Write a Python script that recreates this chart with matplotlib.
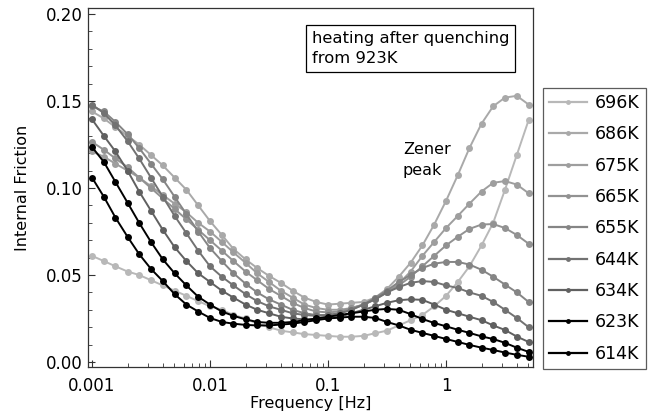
import matplotlib
matplotlib.use("Agg")
import matplotlib.pyplot as plt
from matplotlib.ticker import FixedLocator, MultipleLocator, LogLocator, NullFormatter

plt.rcParams['font.family'] = ['DejaVu Sans']

freq = [0.001, 0.00126, 0.00158, 0.002, 0.00251, 0.00316, 0.00398, 0.00501, 0.00631, 0.00794,
        0.01, 0.0126, 0.0158, 0.02, 0.0251, 0.0316, 0.0398, 0.0501, 0.0631, 0.0794,
        0.1, 0.126, 0.158, 0.2, 0.251, 0.316, 0.398, 0.501, 0.631, 0.794,
        1.0, 1.26, 1.58, 2.0, 2.51, 3.16, 3.98, 5.01]

labels = ["696K", "686K", "675K", "665K", "655K", "644K", "634K", "623K", "614K"]
colors = ["#b8b8b8", "#a9a9a9", "#9e9e9e", "#929292", "#858585", "#727272", "#606060", "#000000", "#000000"]

q696 = [0.061, 0.058, 0.055, 0.052, 0.050, 0.047, 0.044, 0.041, 0.038, 0.035,
        0.032, 0.030, 0.027, 0.025, 0.022, 0.020, 0.018, 0.017, 0.016, 0.0155,
        0.015, 0.0145, 0.0145, 0.015, 0.0165, 0.018, 0.021, 0.024, 0.027, 0.032,
        0.038, 0.046, 0.055, 0.067, 0.080, 0.099, 0.119, 0.139]
q686 = [0.144, 0.140, 0.135, 0.130, 0.125, 0.119, 0.113, 0.106, 0.099, 0.090,
        0.081, 0.073, 0.065, 0.059, 0.054, 0.0495, 0.0455, 0.041, 0.037, 0.0345,
        0.033, 0.0335, 0.034, 0.0345, 0.037, 0.042, 0.049, 0.057, 0.067, 0.079,
        0.0926, 0.1075, 0.123, 0.137, 0.147, 0.152, 0.153, 0.148]
q675 = [0.121, 0.118, 0.114, 0.110, 0.106, 0.101, 0.096, 0.091, 0.086, 0.080,
        0.075, 0.069, 0.063, 0.057, 0.051, 0.046, 0.041, 0.037, 0.033, 0.031,
        0.030, 0.030, 0.031, 0.033, 0.036, 0.040, 0.045, 0.052, 0.061, 0.069,
        0.077, 0.084, 0.091, 0.098, 0.103, 0.104, 0.102, 0.097]
q665 = [0.1265, 0.122, 0.117, 0.112, 0.106, 0.100, 0.094, 0.088, 0.082, 0.076,
        0.070, 0.064, 0.058, 0.052, 0.047, 0.042, 0.038, 0.034, 0.031, 0.029,
        0.0285, 0.029, 0.031, 0.033, 0.036, 0.040, 0.044, 0.049, 0.055, 0.061,
        0.067, 0.072, 0.0765, 0.079, 0.0793, 0.077, 0.073, 0.068]
q655 = [0.147, 0.144, 0.138, 0.131, 0.123, 0.114, 0.105, 0.095, 0.085, 0.075,
        0.0655, 0.058, 0.051, 0.045, 0.040, 0.036, 0.033, 0.030, 0.028, 0.027,
        0.027, 0.028, 0.030, 0.033, 0.037, 0.041, 0.046, 0.050, 0.054, 0.0565,
        0.0575, 0.0575, 0.056, 0.053, 0.049, 0.0445, 0.040, 0.0345]
q644 = [0.148, 0.143, 0.136, 0.127, 0.117, 0.106, 0.095, 0.084, 0.074, 0.064,
        0.055, 0.049, 0.044, 0.039, 0.035, 0.032, 0.030, 0.028, 0.027, 0.0265,
        0.027, 0.028, 0.030, 0.033, 0.036, 0.040, 0.043, 0.0455, 0.0465, 0.046,
        0.044, 0.0425, 0.040, 0.038, 0.0345, 0.030, 0.0253, 0.020]
q634 = [0.1395, 0.130, 0.121, 0.110, 0.098, 0.087, 0.076, 0.066, 0.058, 0.051,
        0.046, 0.041, 0.037, 0.033, 0.030, 0.028, 0.026, 0.025, 0.0245, 0.0245,
        0.025, 0.026, 0.028, 0.030, 0.032, 0.034, 0.0355, 0.036, 0.0357, 0.033,
        0.030, 0.028, 0.026, 0.024, 0.021, 0.0184, 0.0146, 0.0115]
q623 = [0.1236, 0.115, 0.1035, 0.0916, 0.080, 0.069, 0.059, 0.051, 0.044, 0.0375,
        0.033, 0.029, 0.0265, 0.0245, 0.023, 0.0225, 0.0225, 0.023, 0.024, 0.025,
        0.026, 0.027, 0.028, 0.029, 0.030, 0.0305, 0.030, 0.0275, 0.0247, 0.0224,
        0.0205, 0.0185, 0.0167, 0.0147, 0.0132, 0.011, 0.0082, 0.0058]
q614 = [0.106, 0.095, 0.083, 0.072, 0.062, 0.0535, 0.0465, 0.039, 0.033, 0.029,
        0.0253, 0.023, 0.022, 0.0213, 0.021, 0.021, 0.0215, 0.022, 0.023, 0.024,
        0.025, 0.0255, 0.026, 0.026, 0.0253, 0.023, 0.021, 0.0185, 0.0167, 0.015,
        0.0132, 0.0115, 0.0098, 0.0082, 0.0069, 0.0054, 0.0041, 0.003]

series = [q696, q686, q675, q665, q655, q644, q634, q623, q614]

W, H = 656, 418
fig = plt.figure(figsize=(W / 100, H / 100), dpi=100)
ax = fig.add_axes([88 / W, 1 - 367 / H, 445 / W, 359 / H])

handles = []
for lab, col, ys in zip(labels, colors, series):
    ax.plot(freq, ys, color=col, lw=1.4, marker='o', ms=5, mec='none', mfc=col, zorder=2)
    h, = ax.plot([], [], color=col, lw=1.6, marker='o', ms=3.5, mec='none', mfc=col, label=lab)
    handles.append(h)

ax.set_xscale('log')
ax.set_xlim(0.000925, 5.46)
ax.set_ylim(-0.0029, 0.2035)

ax.xaxis.set_major_locator(FixedLocator([0.001, 0.01, 0.1, 1]))
ax.set_xticklabels(["0.001", "0.01", "0.1", "1"])
ax.xaxis.set_minor_locator(LogLocator(base=10, subs=range(2, 10)))
ax.xaxis.set_minor_formatter(NullFormatter())
ax.yaxis.set_major_locator(FixedLocator([0.0, 0.05, 0.10, 0.15, 0.20]))
ax.set_yticklabels(["0.00", "0.05", "0.10", "0.15", "0.20"])
ax.yaxis.set_minor_locator(MultipleLocator(0.01))

ax.tick_params(which='both', direction='in', top=False, right=False, labelsize=12, color='#333333')
ax.tick_params(axis='x', which='major', pad=7)
ax.tick_params(axis='y', which='major', pad=4)
ax.tick_params(which='major', length=5, width=0.8)
ax.tick_params(which='minor', length=3, width=0.6)
for s in ax.spines.values():
    s.set_linewidth(0.9)
    s.set_color('#333333')

ax.set_xlabel("Frequency [Hz]", fontsize=11.5, labelpad=1)
ax.set_ylabel("Internal Friction", fontsize=11.5, labelpad=11)

ax.text((312 - 88) / 445, (367 - 31) / 359, "heating after quenching\nfrom 923K", transform=ax.transAxes,
        fontsize=11.8, va='top', ha='left', linespacing=1.45,
        bbox=dict(boxstyle='square,pad=0.36', fc='white', ec='black', lw=0.9))
ax.text((403 - 88) / 445, (367 - 160) / 359, "Zener\npeak", transform=ax.transAxes, fontsize=11.5,
        va='center', ha='left', linespacing=1.55)

leg = fig.legend(handles=handles, loc='upper left', bbox_to_anchor=(543 / W, 1 - 88 / H),
                 frameon=True, fancybox=False, edgecolor='#333333', fontsize=12.5,
                 handlelength=2.2, handletextpad=0.45, labelspacing=0.77,
                 borderpad=0.34, borderaxespad=0)
leg.get_frame().set_linewidth(0.9)

fig.savefig("out.png", dpi=100)
